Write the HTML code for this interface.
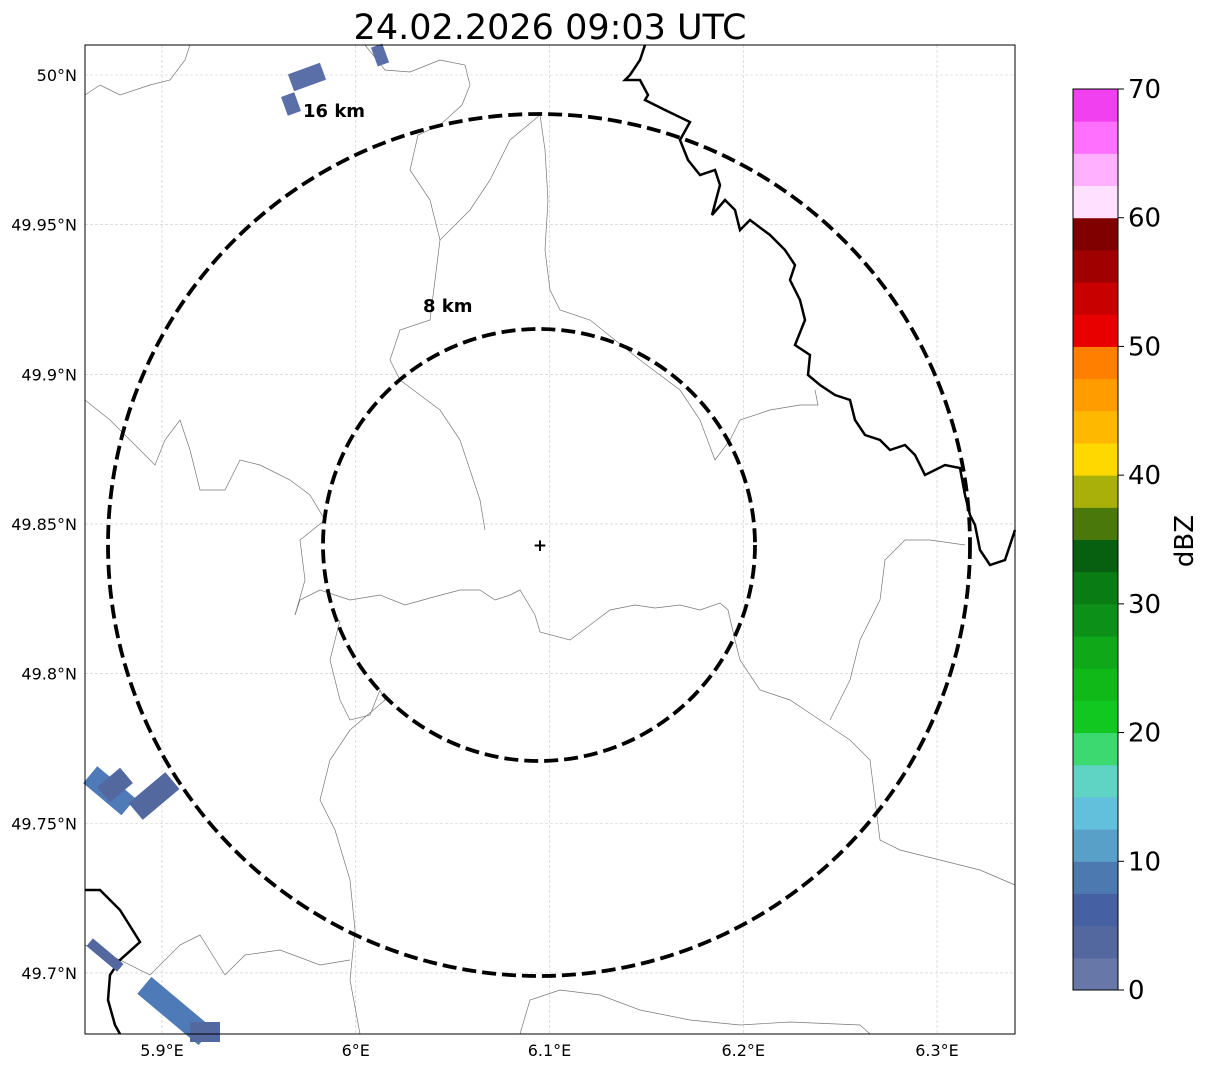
<!DOCTYPE html>
<html><head><meta charset="utf-8"><style>
body{margin:0;background:#fff;font-family:"DejaVu Sans","Liberation Sans",sans-serif;}
svg{display:block}
svg text{font-family:"DejaVu Sans","Liberation Sans",sans-serif;}
</style></head><body>
<svg id="chart" width="1207" height="1069" xmlns="http://www.w3.org/2000/svg">
<text x="550" y="39" font-size="35" text-anchor="middle">24.02.2026 09:03 UTC</text>
<g id="grid"></g>
<g id="map">
<path fill="none" stroke="#777" stroke-width="0.7" d="M85,95 L100,85 L120,95 L150,85 L170,80 L185,60 L190,45"/>
<path fill="none" stroke="#777" stroke-width="0.7" d="M365,45 L385,70 L410,72 L440,60 L465,65 L470,85 L462,105 L440,125 L418,135 L410,170 L430,200 L440,240 L435,280 L430,320 L400,330 L390,360 L400,380 L420,395 L440,410 L460,440 L470,470 L480,500 L485,530"/>
<path fill="none" stroke="#777" stroke-width="0.7" d="M295,615 L300,600 L320,590 L350,600 L380,595 L405,605 L430,598 L460,590 L480,590 L495,600 L510,595 L520,590 L535,615 L540,632 L570,640 L590,625 L610,610 L635,605 L655,608 L680,605 L700,610 L720,603 L728,610 L735,640 L740,660 L760,690 L790,700 L820,720 L850,740 L870,760 L875,800 L880,840 L900,850 L940,860 L980,870 L1015,885"/>
<path fill="none" stroke="#777" stroke-width="0.7" d="M85,400 L110,420 L130,440 L155,465 L165,440 L180,420 L190,450 L200,490 L225,490 L240,460 L260,465 L290,480 L310,495 L325,520 L300,540 L305,580 L295,615"/>
<path fill="none" stroke="#777" stroke-width="0.7" d="M540,115 L545,150 L548,200 L545,250 L550,290 L560,310 L590,320 L640,360 L680,390 L700,420 L715,460 L730,440 L740,420 L770,410 L800,405 L818,405 L815,390"/>
<path fill="none" stroke="#777" stroke-width="0.7" d="M540,115 L510,140 L490,180 L470,210 L450,230 L440,240"/>
<path fill="none" stroke="#777" stroke-width="0.7" d="M340,620 L330,660 L340,700 L350,720 L370,715 L380,690 L385,700 L350,730 L330,760 L320,800 L335,830 L350,880 L355,930 L350,980 L360,1034"/>
<path fill="none" stroke="#777" stroke-width="0.7" d="M225,975 L245,955 L280,950 L320,965 L350,960 M520,1034 L530,1000 L560,990 L600,995 L640,1010 L690,1020 L740,1025 L790,1022 L860,1025 L870,1034"/>
<path fill="none" stroke="#777" stroke-width="0.7" d="M965,545 L930,540 L905,540 L885,560 L880,600 L860,640 L850,680 L830,720 M85,945 L120,960 L150,975 L180,945 L200,935 L225,975"/>
<path fill="none" stroke="#000" stroke-width="2.5" d="M645,45 L640,60 L630,75 L625,80 L640,80 L648,95 L645,100 L665,110 L690,122 L680,140 L688,160 L700,175 L715,170 L720,185 L712,215 L725,200 L735,210 L740,230 L750,220 L770,235 L785,250 L795,265 L790,280 L800,300 L805,320 L795,345 L810,355 L808,375 L820,385 L835,395 L850,400 L855,420 L865,435 L880,440 L890,450 L905,445 L915,455 L925,475 L945,465 L960,468 L965,495 L970,515 L975,525 L980,550 L990,565 L1005,560 L1015,530"/>
<path fill="none" stroke="#000" stroke-width="2.5" d="M85,890 L100,890 L120,910 L140,942 L120,960 L110,975 L108,1000 L115,1025 L120,1034"/>
</g>
<g id="echoes">
<rect x="290" y="68" width="34" height="18" fill="#5a6ea8" transform="rotate(-20 307 77)"/>
<rect x="284" y="94" width="14" height="20" fill="#5a6ea8" transform="rotate(-20 291 104)"/>
<rect x="374" y="45" width="12" height="20" fill="#5a6ea8" transform="rotate(-20 380 55)"/>
<rect x="85" y="780" width="50" height="22" fill="#4f7ab8" transform="rotate(40 110 790)"/>
<rect x="130" y="785" width="48" height="22" fill="#5468a0" transform="rotate(-40 154 796)"/>
<rect x="100" y="775" width="30" height="20" fill="#5468a0" transform="rotate(-40 115 785)"/>
<rect x="85" y="950" width="40" height="10" fill="#5468a0" transform="rotate(40 105 955)"/>
<rect x="135" y="1000" width="80" height="22" fill="#4f7ab8" transform="rotate(40 175 1011)"/>
<rect x="190" y="1022" width="30" height="20" fill="#5468a0"/>
</g>
<g>
<circle cx="539" cy="545" r="216" fill="none" stroke="#000" stroke-width="3.8" stroke-dasharray="14,6"/>
<circle cx="539" cy="545" r="431" fill="none" stroke="#000" stroke-width="3.8" stroke-dasharray="14,6"/>
<text x="423" y="312" font-size="18" font-weight="bold">8 km</text>
<text x="303" y="117" font-size="18" font-weight="bold">16 km</text>
<text x="540" y="551" font-size="17" font-weight="bold" text-anchor="middle">+</text>
</g>
<rect x="85" y="45" width="930" height="989" fill="none" stroke="#000" stroke-width="1"/>
<g id="axes"></g>
<g id="cbar"></g>
<text x="1193" y="541" font-size="26" text-anchor="middle" transform="rotate(-90 1193 541)">dBZ</text>
</svg>
<script>
const lonTicks=[5.9,6.0,6.1,6.2,6.3];
const lonLabels=["5.9°E","6°E","6.1°E","6.2°E","6.3°E"];
const latTicks=[50.0,49.95,49.9,49.85,49.8,49.75,49.7];
const latLabels=["50°N","49.95°N","49.9°N","49.85°N","49.8°N","49.75°N","49.7°N"];
const cbarColors=["#6677a8","#5468a0","#4660a4","#4c7ab0","#58a0c8","#62c0dc","#60d4c4","#3cd870","#10c820","#10b818","#0ea818","#0c9018","#0a7c14","#066010","#4a780a","#aab00a","#ffd800","#ffb800","#ff9c00","#ff8000","#e80000","#c80000","#a00000","#800000","#ffe0ff","#ffb0ff","#ff70ff","#f040f0"];
const cbarTicks=[0,10,20,30,40,50,60,70];
const NS="http://www.w3.org/2000/svg";
const xs=v=>162+(v-5.9)*1937.5;
const ys=v=>75+(50.0-v)*2993;
const cy=v=>990-(v/70)*901;
function mk(t,a,p){const e=document.createElementNS(NS,t);for(const k in a)e.setAttribute(k,a[k]);p.appendChild(e);return e;}
const grid=document.getElementById('grid'),axes=document.getElementById('axes'),cb=document.getElementById('cbar');
lonTicks.forEach((v,i)=>{const x=xs(v);
const l=mk('line',{x1:x,x2:x,y1:45,y2:1034,stroke:'#c8c8c8','stroke-width':0.6,'stroke-dasharray':'3,2'},grid);

const t=mk('text',{x:x,y:1056,'font-size':16,'text-anchor':'middle'},axes);t.textContent=lonLabels[i];
});
latTicks.forEach((v,i)=>{const y=ys(v);
const l=mk('line',{x1:85,x2:1015,y1:y,y2:y,stroke:'#c8c8c8','stroke-width':0.6,'stroke-dasharray':'3,2'},grid);

const t=mk('text',{x:77,y:y+6,'font-size':16,'text-anchor':'end'},axes);t.textContent=latLabels[i];
});
cbarColors.forEach((c,i)=>{const y0=cy(i*2.5),y1=cy((i+1)*2.5);
const r=mk('rect',{x:1073,y:y1,width:45,height:y0-y1+0.5,fill:c},cb);
});
const fr=mk('rect',{x:1073,y:89,width:45,height:901,fill:'none',stroke:'#000','stroke-width':1},cb);

cbarTicks.forEach(v=>{const y=cy(v);
const l=mk('line',{x1:1118,x2:1124,y1:y,y2:y,stroke:'#000'},cb);

const t=mk('text',{x:1128,y:y+9,'font-size':26},cb);t.textContent=v;
});
</script>
</body></html>
